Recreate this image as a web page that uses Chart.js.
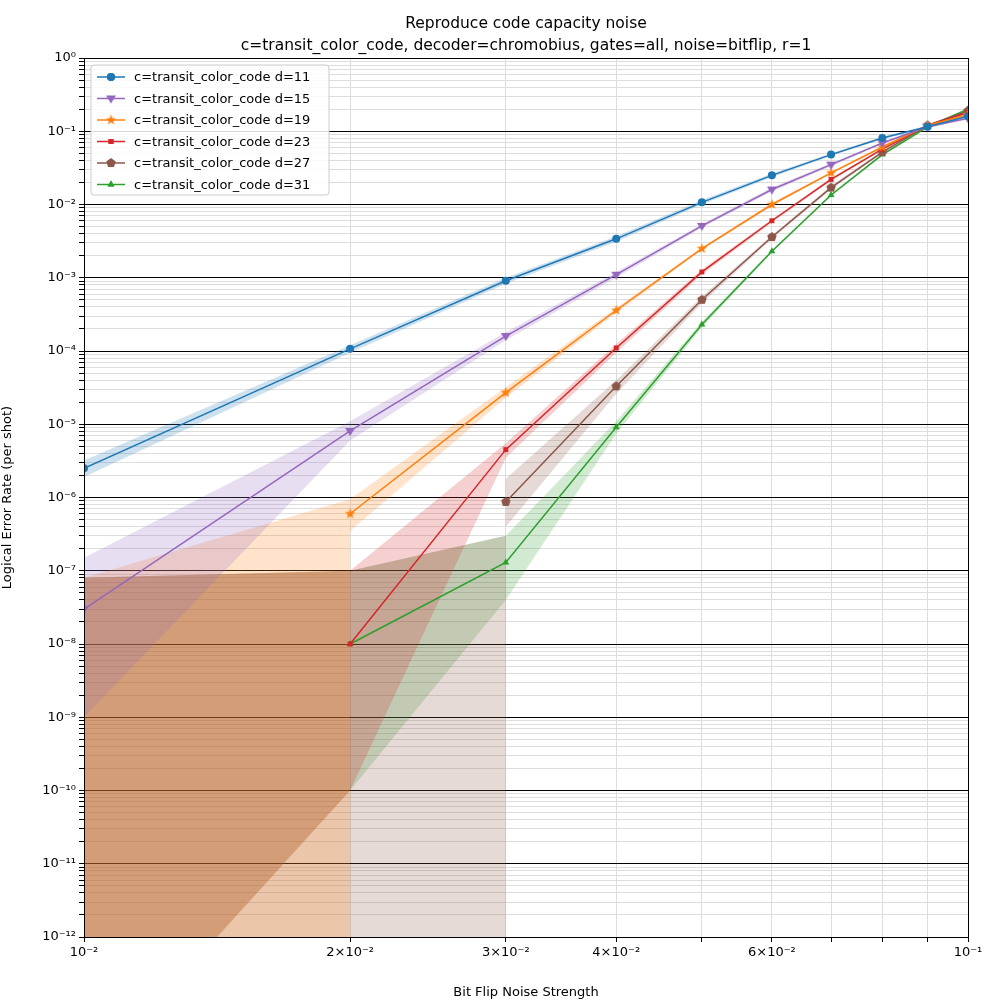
<!doctype html>
<html>
<head>
<meta charset="utf-8">
<script src="https://cdn.jsdelivr.net/npm/chart.js"></script>
<style>body{margin:0;background:#fff}</style>
</head>
<body>
<div style="width:1000px;height:1000px"><canvas id="c"></canvas></div>
<script>
const xs = [0.01, 0.02, 0.03, 0.04, 0.05, 0.06, 0.07, 0.08, 0.09, 0.1];
const labels = ['c=transit_color_code d=11','c=transit_color_code d=15','c=transit_color_code d=19',
  'c=transit_color_code d=23','c=transit_color_code d=27','c=transit_color_code d=31'];
const colors = ['#1f77b4','#9467bd','#ff7f0e','#d62728','#8c564b','#2ca02c'];
const markers = ['circle','down','star','rect','pent','triangle'];

// line values (null = no logical errors seen)
const d11 = [2.5e-6,1.07e-4,9.1e-4,3.4e-3,1.07e-2,2.5e-2,4.8e-2,8.1e-2,0.115,0.16];
const d15 = [3e-8,8.1e-6,1.6e-4,1.1e-3,5.1e-3,1.6e-2,3.5e-2,6.9e-2,0.115,0.15];
const d19 = [null,6e-7,2.7e-5,3.6e-4,2.5e-3,1.0e-2,2.7e-2,6.1e-2,0.12,0.17];
const d23 = [null,1e-8,4.5e-6,1.1e-4,1.2e-3,6e-3,2.2e-2,5.7e-2,0.12,0.18];
const d27 = [null,null,8.7e-7,3.3e-5,5e-4,3.6e-3,1.7e-2,5.2e-2,0.12,0.19];
const d31 = [null,1e-8,1.3e-7,9.1e-6,2.3e-4,2.3e-3,1.35e-2,4.8e-2,0.115,0.2];

// uncertainty bands (1e-14 = below the axis floor)
const d11BandX = xs;
const d11Up = [3.2e-6,1.2e-4,1.0e-3,3.7e-3,1.15e-2,2.65e-2,5.0e-2,8.4e-2,0.12,0.165];
const d11Lo = [1.9e-6,9.5e-5,8.3e-4,3.1e-3,1.0e-2,2.35e-2,4.6e-2,7.8e-2,0.11,0.155];
const d15BandX = xs;
const d15Up = [1.5e-7,1.1e-5,1.8e-4,1.2e-3,5.4e-3,1.7e-2,3.7e-2,7.1e-2,0.12,0.155];
const d15Lo = [1e-9,6e-6,1.4e-4,1.0e-3,4.8e-3,1.5e-2,3.3e-2,6.7e-2,0.11,0.145];
const d19BandX = [0.01,0.02,0.02,0.03,0.04,0.05,0.06,0.07,0.08,0.09,0.1];
const d19Up = [8e-8,9.5e-7,9.5e-7,3.2e-5,3.9e-4,2.6e-3,1.05e-2,2.8e-2,6.3e-2,0.125,0.175];
const d19Lo = [1e-14,1e-14,3.5e-7,2.3e-5,3.3e-4,2.4e-3,0.95e-2,2.6e-2,5.9e-2,0.115,0.165];
const d23BandX = xs;
const d23Up = [8e-8,1e-7,5.5e-6,1.25e-4,1.3e-3,6.3e-3,2.3e-2,5.9e-2,0.125,0.185];
const d23Lo = [1e-14,1e-10,3.5e-6,9.5e-5,1.1e-3,5.7e-3,2.1e-2,5.5e-2,0.115,0.175];
const d27BandX = [0.01,0.02,0.03,0.03,0.04,0.05,0.06,0.07,0.08,0.09,0.1];
const d27Up = [8e-8,1e-7,3e-7,1.8e-6,4e-5,5.5e-4,3.8e-3,1.8e-2,5.4e-2,0.125,0.195];
const d27Lo = [1e-14,1e-14,1e-14,4e-7,2.6e-5,4.5e-4,3.4e-3,1.6e-2,5.0e-2,0.115,0.185];
const d31BandX = xs;
const d31Up = [8e-8,1e-7,3e-7,1.1e-5,2.5e-4,2.4e-3,1.4e-2,5.0e-2,0.12,0.21];
const d31Lo = [1e-14,1e-10,4e-8,7.5e-6,2.1e-4,2.2e-3,1.3e-2,4.6e-2,0.11,0.19];

const series = [[d11,d11BandX,d11Up,d11Lo],[d15,d15BandX,d15Up,d15Lo],[d19,d19BandX,d19Up,d19Lo],
  [d23,d23BandX,d23Up,d23Lo],[d27,d27BandX,d27Up,d27Lo],[d31,d31BandX,d31Up,d31Lo]];

function alpha(hex, a) {
  const n = parseInt(hex.slice(1), 16);
  return `rgba(${n>>16},${(n>>8)&255},${n&255},${a})`;
}

// marker canvases for shapes chart.js doesn't have
function marker(kind, color, r) {
  if (kind === 'circle' || kind === 'rect' || kind === 'triangle') return kind;
  const c = document.createElement('canvas');
  const s = Math.ceil(r * 2 + 2);
  c.width = c.height = s;
  const g = c.getContext('2d');
  g.fillStyle = color;
  g.beginPath();
  const cx = s / 2, cy = s / 2;
  if (kind === 'down') {
    g.moveTo(cx - r, cy - r * 0.6); g.lineTo(cx + r, cy - r * 0.6); g.lineTo(cx, cy + r);
  } else {
    const pts = kind === 'star' ? 10 : 5;
    for (let i = 0; i < pts; i++) {
      const rr = kind === 'star' && i % 2 ? r * 0.42 : r;
      const a = -Math.PI / 2 + i * 2 * Math.PI / pts;
      g.lineTo(cx + rr * Math.cos(a), cy + rr * Math.sin(a));
    }
  }
  g.closePath();
  g.fill();
  return c;
}

const datasets = [];
series.forEach((s, i) => {
  const idx = datasets.length;
  datasets.push({ data: s[1].map((x, j) => ({x, y: s[2][j]})), borderWidth: 0, pointRadius: 0,
    backgroundColor: alpha(colors[i], 0.22), fill: idx + 1, order: 2, isBand: true });
  datasets.push({ data: s[1].map((x, j) => ({x, y: s[3][j]})), borderWidth: 0, pointRadius: 0,
    fill: false, order: 2, isBand: true });
});
const markerSize = [4, 4, 4.5, 3.5, 4, 4];
series.forEach((s, i) => {
  const m = marker(markers[i], colors[i], markerSize[i] + 1);
  datasets.push({ label: labels[i], data: xs.map((x, j) => ({x, y: s[0][j]})),
    borderColor: colors[i], backgroundColor: colors[i], borderWidth: 1.5,
    pointStyle: m, pointRadius: markerSize[i], pointBorderWidth: 0, fill: false, order: 1, spanGaps: false, mk: m });
});

const sup = n => String(n).replace('-', '⁻').replace(/\d/g, d => '⁰¹²³⁴⁵⁶⁷⁸⁹'[d]);
const isMajor = v => Math.abs(Math.log10(v) - Math.round(Math.log10(v))) < 1e-6;

const yTicks = [];
for (let e = -12; e < 0; e++) for (let m = 1; m < 10; m++) yTicks.push({value: m * Math.pow(10, e)});
yTicks.push({value: 1});
const xTicks = [];
for (let m = 1; m <= 10; m++) xTicks.push({value: m / 100});
const xLabelled = {0.01: '10⁻²', 0.02: '2×10⁻²', 0.03: '3×10⁻²', 0.04: '4×10⁻²', 0.06: '6×10⁻²', 0.1: '10⁻¹'};

const overlay = {
  id: 'overlay',
  afterDraw(chart) {
    const g = chart.ctx;
    const a = chart.chartArea;
    g.save();
    g.strokeStyle = '#000'; g.lineWidth = 1;
    g.strokeRect(a.left + 0.5, a.top + 0.5, a.right - a.left, a.bottom - a.top);
    g.fillStyle = '#000'; g.textAlign = 'center';
    g.font = '15.5px "DejaVu Sans"';
    g.fillText('Reproduce code capacity noise', 526, 28);
    g.fillText('c=transit_color_code, decoder=chromobius, gates=all, noise=bitflip, r=1', 526, 50);
    // legend
    const lx = a.left + 7, ly = a.top + 7;
    g.fillStyle = 'rgba(255,255,255,0.85)'; g.strokeStyle = '#ccc';
    g.beginPath(); g.roundRect(lx, ly, 238, 130, 3); g.fill(); g.stroke();
    g.font = '13px "DejaVu Sans"'; g.textAlign = 'left'; g.textBaseline = 'middle';
    const lines = chart.data.datasets.filter(d => !d.isBand);
    lines.forEach((d, i) => {
      const y = ly + 12 + i * 21.5;
      g.strokeStyle = d.borderColor; g.lineWidth = 1.5;
      g.beginPath(); g.moveTo(lx + 6, y); g.lineTo(lx + 34, y); g.stroke();
      g.fillStyle = d.borderColor;
      Chart.helpers.drawPoint(g, {pointStyle: d.mk, radius: d.pointRadius, borderWidth: 0}, lx + 20, y);
      if (typeof d.mk === 'string') g.fill();
      g.fillStyle = '#000';
      g.fillText(d.label, lx + 43, y + 1);
    });
    g.restore();
  }
};

new Chart(document.getElementById('c'), {
  type: 'line',
  data: { datasets },
  options: {
    responsive: true, maintainAspectRatio: false, animation: false,
    layout: { padding: { top: 58, right: 32, left: 0, bottom: 0 } },
    plugins: { legend: { display: false }, tooltip: { enabled: false } },
    scales: {
      x: {
        type: 'logarithmic', min: 0.01, max: 0.1,
        afterBuildTicks: s => { s.ticks = xTicks.map(t => ({...t})); },
        afterFit: s => { s.height = 63; },
        ticks: { autoSkip: false, maxRotation: 0, color: '#000', font: {size: 13, family: 'DejaVu Sans'},
          callback: v => xLabelled[Math.round(v * 100) / 100] || '' },
        grid: { color: '#dddddd', tickColor: '#000', tickLength: 5 },
        border: { display: false },
        title: { display: true, text: 'Bit Flip Noise Strength', color: '#000', padding: {top: 4, bottom: 0},
          font: {size: 13, family: 'DejaVu Sans'} }
      },
      y: {
        type: 'logarithmic', min: 1e-12, max: 1,
        afterBuildTicks: s => { s.ticks = yTicks.map(t => ({...t})); },
        afterFit: s => { s.width = 84; },
        ticks: { autoSkip: false, color: '#000', font: {size: 13, family: 'DejaVu Sans'},
          callback: v => isMajor(v) ? '10' + sup(Math.round(Math.log10(v))) : '' },
        grid: { color: c => isMajor(c.tick.value) ? '#000' : '#dddddd', tickColor: '#000', tickLength: 5 },
        border: { display: false },
        title: { display: true, text: 'Logical Error Rate (per shot)', color: '#000', padding: {top: 0, bottom: 6},
          font: {size: 13, family: 'DejaVu Sans'} }
      }
    }
  },
  plugins: [overlay]
});
</script>
</body>
</html>
